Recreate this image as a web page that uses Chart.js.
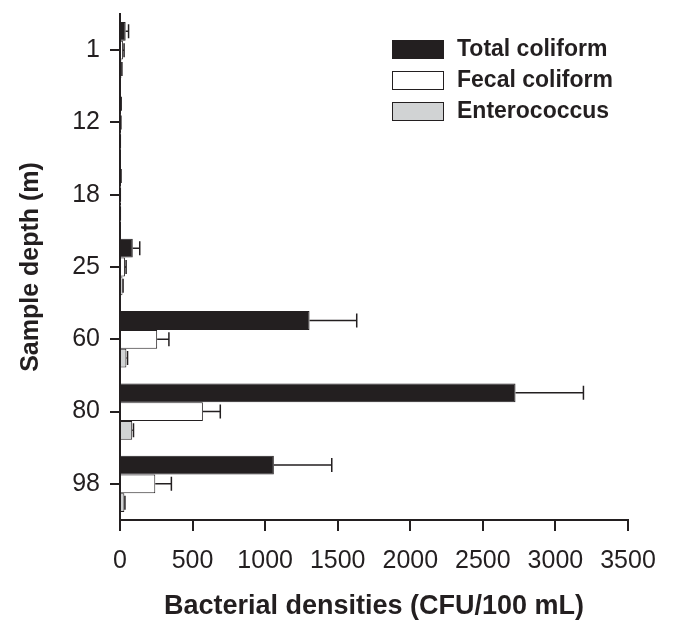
<!DOCTYPE html>
<html>
<head>
<meta charset="utf-8">
<script src="https://cdn.jsdelivr.net/npm/chart.js@4.4.1/dist/chart.umd.min.js"></script>
<style>
  html, body { margin: 0; padding: 0; background: #fff; }
  #wrap { width: 673px; height: 620px; }
</style>
</head>
<body>
<div id="wrap"><canvas id="myChart" width="673" height="620"></canvas></div>
<script>
const depths = ["1", "12", "18", "25", "60", "80", "98"];
const total = [39, 6, 5, 88, 1306, 2725, 1060];
const totalErr = [20, 2, 2, 48, 325, 468, 399];
const fecal = [20, 4, 1, 34, 256, 571, 243];
const fecalErr = [8, 2, 1, 8, 81, 120, 111];
const entero = [10, 1, 1, 17, 44, 84, 30];
const enteroErr = [3, 1, 1, 4, 8, 9, 4];
const xTicks = [0, 500, 1000, 1500, 2000, 2500, 3000, 3500];

const ink = "#231f20";
const font = "'Liberation Sans', Arial, sans-serif";

// one-sided error bars drawn from the end of each bar
const errorBars = {
  id: "errorBars",
  afterDatasetsDraw(chart) {
    const ctx = chart.ctx;
    const xs = chart.scales.x;
    ctx.save();
    ctx.strokeStyle = ink;
    ctx.lineWidth = 1.5;
    chart.data.datasets.forEach((ds, i) => {
      const meta = chart.getDatasetMeta(i);
      meta.data.forEach((bar, j) => {
        const end = xs.getPixelForValue(ds.data[j] + ds.errors[j]);
        ctx.beginPath();
        ctx.moveTo(bar.x, bar.y);
        ctx.lineTo(end, bar.y);
        ctx.moveTo(end, bar.y - 7);
        ctx.lineTo(end, bar.y + 7);
        ctx.stroke();
      });
    });
    ctx.restore();
  },
};

// legend placed inside the plot, top right
const boxLegend = {
  id: "boxLegend",
  afterDraw(chart) {
    const ctx = chart.ctx;
    ctx.save();
    ctx.font = "bold 23px " + font;
    ctx.textBaseline = "middle";
    chart.data.datasets.forEach((ds, i) => {
      const y = 40 + i * 31;
      ctx.fillStyle = ds.backgroundColor;
      ctx.fillRect(392, y, 51, 18);
      ctx.strokeStyle = ink;
      ctx.lineWidth = 1;
      ctx.strokeRect(392.5, y + 0.5, 51, 18);
      ctx.fillStyle = ink;
      ctx.fillText(ds.label, 457, y + 10);
    });
    ctx.restore();
  },
};

const ctx = document.getElementById("myChart");

const myChart = new Chart(ctx, {
  type: "bar",
  data: {
    labels: depths,
    datasets: [
      { label: "Total coliform", data: total, errors: totalErr, backgroundColor: ink },
      { label: "Fecal coliform", data: fecal, errors: fecalErr, backgroundColor: "#ffffff" },
      { label: "Enterococcus", data: entero, errors: enteroErr, backgroundColor: "#d1d3d4" },
    ],
  },
  options: {
    indexAxis: "y",
    responsive: false,
    animation: false,
    layout: { padding: { left: 0, right: 45, top: 14, bottom: 0 } },
    datasets: {
      bar: {
        borderColor: ink,
        borderWidth: 1,
        borderSkipped: "start",
        categoryPercentage: 0.78,
        barPercentage: 1,
      },
    },
    plugins: {
      legend: { display: false },
      tooltip: { enabled: false },
    },
    scales: {
      x: {
        min: 0,
        max: 3500,
        afterBuildTicks: (s) => { s.ticks = xTicks.map((v) => ({ value: v })); },
        afterFit: (s) => { s.height = 100; },
        border: { display: true, color: ink, width: 2 },
        grid: { drawOnChartArea: false, drawTicks: true, tickLength: 11, color: ink, lineWidth: 2 },
        ticks: {
          color: ink,
          font: { family: font, size: 25 },
          padding: 15,
          maxRotation: 0,
          autoSkip: false,
          callback: (v) => String(v),
        },
        title: {
          display: true,
          text: "Bacterial densities (CFU/100 mL)",
          color: ink,
          font: { family: font, size: 27, weight: "bold", lineHeight: 1 },
          padding: { top: 0, bottom: 0 },
        },
      },
      y: {
        afterFit: (s) => {
          s.width = 120;
          s.paddingTop = 0;
          s.paddingBottom = 0;
        },
        border: { display: true, color: ink, width: 2 },
        grid: { offset: false, drawOnChartArea: false, drawTicks: true, tickLength: 10, color: ink, lineWidth: 2 },
        ticks: { color: ink, font: { family: font, size: 25 }, padding: 10 },
        title: {
          display: true,
          text: "Sample depth (m)",
          color: ink,
          font: { family: font, size: 25, weight: "bold", lineHeight: 1 },
          padding: { top: 19, bottom: 0 },
        },
      },
    },
  },
  plugins: [errorBars, boxLegend],
});
</script>
</body>
</html>
